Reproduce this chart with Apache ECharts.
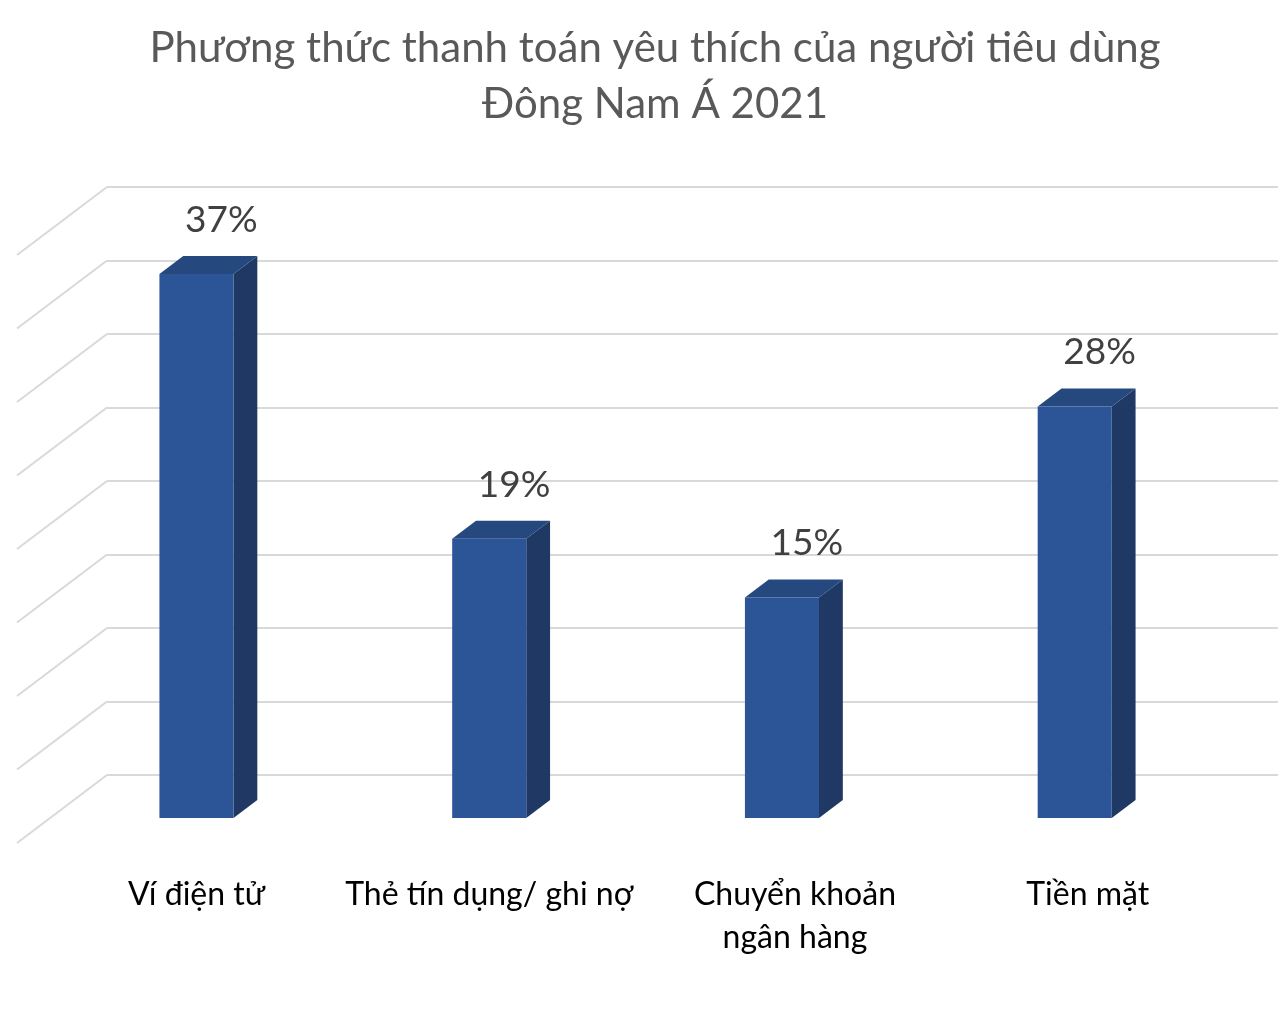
<!DOCTYPE html>
<html>
<head>
<meta charset="utf-8">
<script src="https://cdn.jsdelivr.net/npm/echarts@6/dist/echarts.min.js"></script>
<style>
  html, body { margin: 0; padding: 0; background: #fff; }
  #chart { width: 1280px; height: 1010px; }
</style>
</head>
<body>
<div id="chart"></div>
<script>
// data
var categories = ['Ví điện tử', 'Thẻ tín dụng/ ghi nợ', 'Chuyển khoản\nngân hàng', 'Tiền mặt'];
var shares = [37, 19, 15, 28];
var gridTicks = [0, 5, 10, 15, 20, 25, 30, 35, 40];

var FONT = 'Lato';
// perspective offsets (back wall -> front of floor)
var DEPTH_X = -90, DEPTH_Y = 68;
var FRONT_K = 43 / 68, BACK_K = 25 / 68;

var chart = echarts.init(document.getElementById('chart'));

function renderDiag(params, api) {
    var p = api.coord([0, api.value(0)]);
    var x0 = params.coordSys.x;
    return {
        type: 'line',
        shape: { x1: x0, y1: p[1], x2: x0 + DEPTH_X, y2: p[1] + DEPTH_Y },
        style: { stroke: '#d9d9d9', lineWidth: 2 }
    };
}

function renderBar(params, api) {
    var idx = api.value(0);
    var val = api.value(1);
    var base = api.coord([idx, 0]);
    var top = api.coord([idx, val]);
    var w = api.size([1, 0])[0] * 0.253;
    var fx = base[0] + DEPTH_X * FRONT_K, fy = DEPTH_Y * FRONT_K;
    var bx = base[0] + DEPTH_X * BACK_K, by = DEPTH_Y * BACK_K;
    var fl = fx - w / 2, fr = fx + w / 2;
    var bl = bx - w / 2, br = bx + w / 2;
    var ft = top[1] + fy, fb = base[1] + fy;
    var bt = top[1] + by, bb = base[1] + by;
    return {
        type: 'group',
        children: [
            {
                type: 'polygon',
                shape: { points: [[fr, ft], [br, bt], [br, bb], [fr, fb]] },
                style: { fill: '#1f3864' }
            },
            {
                type: 'polygon',
                shape: { points: [[fl, ft], [bl, bt], [br, bt], [fr, ft]] },
                style: { fill: '#25497f' }
            },
            {
                type: 'rect',
                shape: { x: fl, y: ft, width: w, height: fb - ft },
                style: { fill: '#2c5597' }
            },
            {
                type: 'text',
                style: {
                    text: val + '%', x: bx + 1, y: bt - 36,
                    align: 'center', verticalAlign: 'middle',
                    fontFamily: FONT, fontSize: 37, fill: '#404040'
                }
            },
            {
                type: 'text',
                style: {
                    text: categories[idx], x: fx + (idx > 1 ? 13 : 0), y: fb + 55,
                    align: 'center', verticalAlign: 'top',
                    fontFamily: FONT, fontSize: 32, lineHeight: 43, fill: '#000'
                }
            }
        ]
    };
}

var option = {
    backgroundColor: '#fff',
    animation: false,
    title: {
        text: 'Phương thức thanh toán yêu thích của người tiêu dùng\nĐông Nam Á 2021',
        left: 650,
        top: 15,
        textAlign: 'center',
        textStyle: { fontFamily: FONT, fontSize: 42, fontWeight: 'normal', color: '#595959', lineHeight: 56 }
    },
    grid: { left: 107, right: 2, top: 187, bottom: 235 },
    xAxis: {
        type: 'category',
        data: categories,
        axisLine: { show: false },
        axisTick: { show: false },
        axisLabel: { show: false }
    },
    yAxis: {
        type: 'value',
        min: 0,
        max: 40,
        interval: 5,
        axisLine: { show: false },
        axisTick: { show: false },
        axisLabel: { show: false },
        splitLine: { lineStyle: { color: '#d9d9d9', width: 2 } }
    },
    series: [
        {
            type: 'custom',
            renderItem: renderDiag,
            data: gridTicks.map(function (v) { return [v]; }),
            encode: { y: 0 },
            silent: true,
            z: 1
        },
        {
            type: 'custom',
            renderItem: renderBar,
            data: shares.map(function (v, i) { return [i, v]; }),
            encode: { x: 0, y: 1 },
            z: 2
        }
    ]
};

chart.setOption(option);
</script>
</body>
</html>
